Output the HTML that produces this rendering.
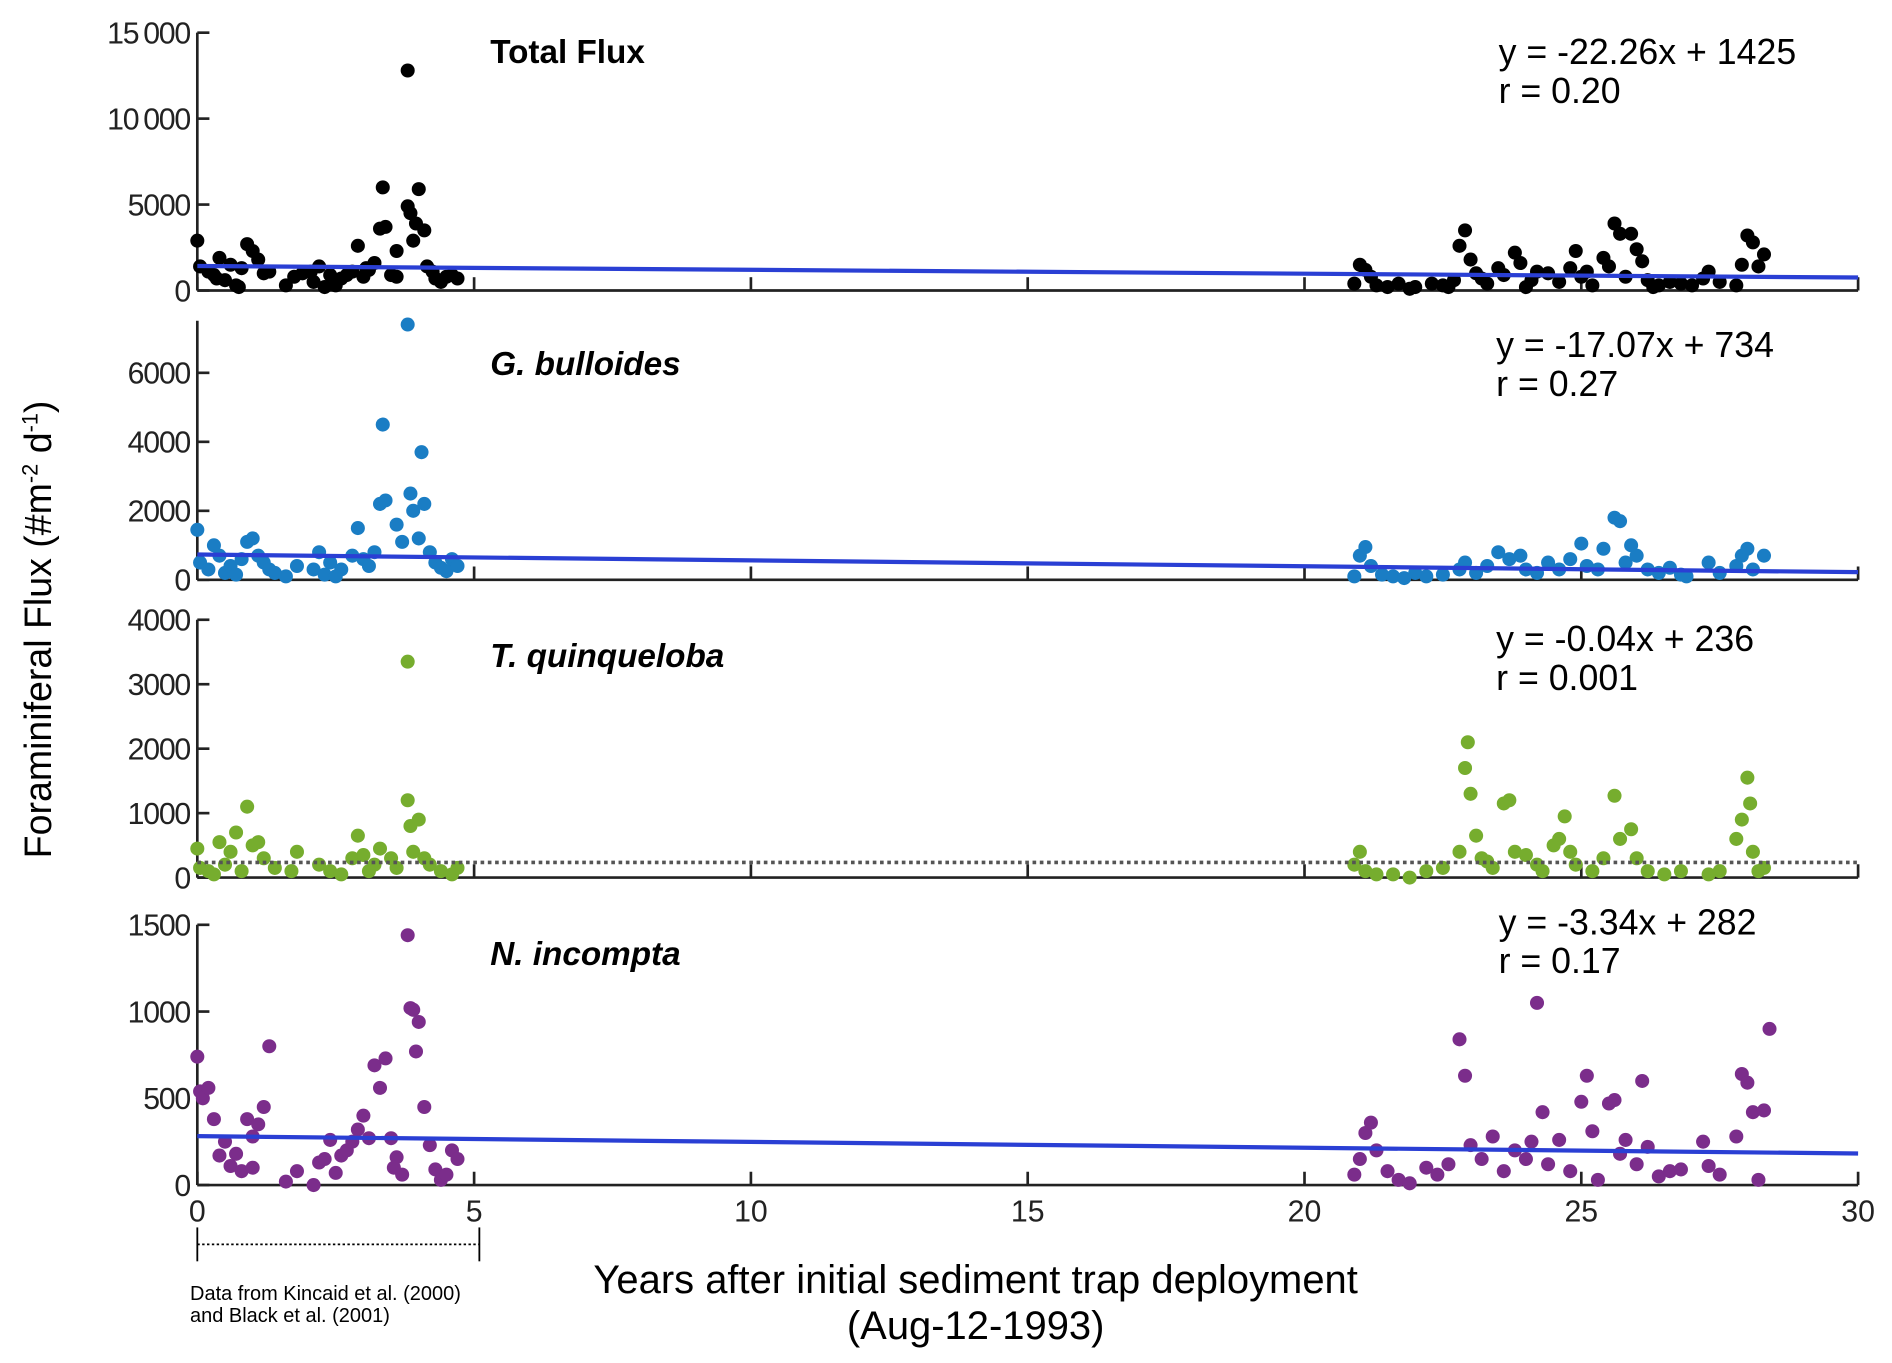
<!DOCTYPE html>
<html><head><meta charset="utf-8"><style>
html,body{margin:0;padding:0;background:#fff;}
svg{display:block;font-family:"Liberation Sans",Arial,sans-serif;}
</style></head><body>
<svg id="chart" width="1892" height="1363" viewBox="0 0 1563 1126" xmlns="http://www.w3.org/2000/svg">
<g id="root"></g>
</svg>
<script>
const xTicks=[0,5,10,15,20,25,30];
const panelNames=["Total Flux","G. bulloides","T. quinqueloba","N. incompta"];
const panelColors=["#000000","#1a7dc4","#76ad2e","#7b2d8b"];
const panelYTicks=[[0,5000,10000,15000],[0,2000,4000,6000],[0,1000,2000,3000,4000],[0,500,1000,1500]];
const panelYTickLabels=[["0","5000","10\u2009000","15\u2009000"],["0","2000","4000","6000"],["0","1000","2000","3000","4000"],["0","500","1000","1500"]];
const slopes=[-22.26,-17.07,-0.04,-3.34];
const intercepts=[1425,734,236,282];
const eqTexts=[["y = -22.26x + 1425","r = 0.20"],["y = -17.07x + 734","r = 0.27"],["y = -0.04x + 236","r = 0.001"],["y = -3.34x + 282","r = 0.17"]];
const totalFlux=[[0,2900],[0.05,1400],[0.2,1100],[0.3,900],[0.4,1900],[0.5,600],[0.6,1500],[0.7,300],[0.8,1300],[0.9,2700],[1.0,2300],[1.1,1800],[1.2,1000],[1.3,1100],[0.35,700],[0.75,200],[1.6,300],[1.75,800],[2.1,500],[2.2,1400],[2.3,200],[2.4,900],[2.5,300],[2.6,700],[2.7,900],[2.9,2600],[3.0,800],[3.1,1200],[3.2,1600],[3.3,3600],[3.35,6000],[3.4,3700],[3.5,900],[3.6,800],[3.6,2300],[3.8,12800],[3.8,4900],[3.85,4500],[3.9,2900],[3.95,3900],[4.0,5900],[4.1,3500],[4.15,1400],[4.25,1100],[4.3,700],[4.4,500],[4.5,800],[4.6,900],[4.7,700],[1.9,1000],[2.05,1100],[2.8,1100],[3.05,1300],
[20.9,400],[21.0,1500],[21.1,1200],[21.2,800],[21.3,300],[21.5,200],[21.7,400],[21.9,100],[22.0,200],[22.3,400],[22.5,300],[22.7,600],[22.8,2600],[22.9,3500],[23.0,1800],[23.1,1000],[23.2,700],[23.3,400],[23.5,1300],[23.6,900],[23.8,2200],[23.9,1600],[24.1,600],[24.2,1100],[24.4,1000],[24.6,500],[24.8,1300],[24.9,2300],[25.0,800],[25.1,1100],[25.2,300],[25.4,1900],[25.5,1400],[25.6,3900],[25.7,3300],[25.8,800],[25.9,3300],[26.0,2400],[26.1,1700],[26.2,600],[26.4,300],[26.6,500],[26.8,400],[27.2,700],[27.3,1100],[27.5,500],[27.8,300],[27.9,1500],[28.0,3200],[28.1,2800],[28.2,1400],[28.3,2100],[26.3,200],[27.0,300],[22.6,200],[24.0,200]];
const gBulloides=[[0,1450],[0.05,500],[0.2,300],[0.3,1000],[0.4,700],[0.5,200],[0.6,400],[0.7,150],[0.8,600],[0.9,1100],[1.0,1200],[1.1,700],[1.2,500],[1.3,300],[1.6,100],[1.8,400],[2.1,300],[2.2,800],[2.3,150],[2.4,500],[2.6,300],[2.8,700],[2.9,1500],[3.0,600],[3.2,800],[3.3,2200],[3.35,4500],[3.4,2300],[3.6,1600],[3.7,1100],[3.8,7400],[3.85,2500],[3.9,2000],[4.0,1200],[4.05,3700],[4.1,2200],[4.2,800],[4.3,500],[4.4,350],[4.5,250],[4.6,600],[4.7,400],[1.4,200],[2.5,100],[3.1,400],
[20.9,100],[21.0,700],[21.1,950],[21.2,400],[21.4,150],[21.6,100],[21.8,50],[22.2,100],[22.5,150],[22.8,300],[22.9,500],[23.1,200],[23.3,400],[23.5,800],[23.7,600],[23.9,700],[24.0,300],[24.2,200],[24.4,500],[24.6,300],[24.8,600],[25.0,1050],[25.1,400],[25.3,300],[25.4,900],[25.6,1800],[25.7,1700],[25.8,500],[25.9,1000],[26.0,700],[26.2,300],[26.4,200],[26.6,350],[26.8,150],[27.3,500],[27.5,200],[27.8,400],[27.9,700],[28.0,900],[28.1,300],[28.3,700],[26.9,100],[22.0,200]];
const tQuinqueloba=[[0,450],[0.05,150],[0.2,100],[0.4,550],[0.5,200],[0.6,400],[0.7,700],[0.8,100],[0.9,1100],[1.0,500],[1.1,550],[1.2,300],[1.4,150],[1.7,100],[1.8,400],[2.2,200],[2.4,100],[2.6,50],[2.8,300],[2.9,650],[3.0,350],[3.2,200],[3.3,450],[3.5,300],[3.6,150],[3.8,3350],[3.8,1200],[3.85,800],[3.9,400],[4.0,900],[4.1,300],[4.2,200],[4.4,100],[4.6,50],[4.7,150],[3.1,100],[0.3,50],
[20.9,200],[21.0,400],[21.1,100],[21.3,50],[21.6,50],[21.9,0],[22.2,100],[22.5,150],[22.8,400],[22.9,1700],[22.95,2100],[23.0,1300],[23.1,650],[23.2,300],[23.4,150],[23.6,1150],[23.7,1200],[23.8,400],[24.0,350],[24.2,200],[24.5,500],[24.6,600],[24.7,950],[24.8,400],[24.9,200],[25.2,100],[25.4,300],[25.6,1270],[25.7,600],[25.9,750],[26.0,300],[26.2,100],[26.5,50],[26.8,100],[27.3,50],[27.5,100],[27.8,600],[27.9,900],[28.0,1550],[28.05,1150],[28.1,400],[28.2,100],[28.3,150],[24.3,100],[23.3,250]];
const nIncompta=[[0,740],[0.05,540],[0.1,500],[0.2,560],[0.3,380],[0.4,170],[0.5,250],[0.6,110],[0.7,180],[0.8,80],[0.9,380],[1.0,280],[1.1,350],[1.2,450],[1.3,800],[1.0,100],[1.6,20],[1.8,80],[2.1,0],[2.2,130],[2.3,150],[2.4,260],[2.5,70],[2.6,170],[2.7,200],[2.8,250],[2.9,320],[3.0,400],[3.1,270],[3.2,690],[3.3,560],[3.4,730],[3.5,270],[3.6,160],[3.7,60],[3.8,1440],[3.85,1020],[3.9,1010],[3.95,770],[4.0,940],[4.1,450],[4.2,230],[4.3,90],[4.4,30],[4.5,60],[4.6,200],[4.7,150],[3.55,100],
[20.9,60],[21.0,150],[21.1,300],[21.2,360],[21.3,200],[21.5,80],[21.7,30],[21.9,10],[22.2,100],[22.4,60],[22.6,120],[22.8,840],[22.9,630],[23.0,230],[23.2,150],[23.4,280],[23.6,80],[23.8,200],[24.0,150],[24.1,250],[24.2,1050],[24.3,420],[24.4,120],[24.6,260],[24.8,80],[25.0,480],[25.1,630],[25.2,310],[25.3,30],[25.5,470],[25.6,490],[25.7,180],[25.8,260],[26.0,120],[26.1,600],[26.2,220],[26.4,50],[26.6,80],[26.8,90],[27.2,250],[27.3,110],[27.5,60],[27.8,280],[27.9,640],[28.0,590],[28.1,420],[28.3,430],[28.4,900],[28.2,30]];
const panelData=[totalFlux,gBulloides,tQuinqueloba,nIncompta];

const NS="http://www.w3.org/2000/svg";
const root=document.getElementById('root');
const X0=163,X1=1535;
const xs=v=>X0+(v-0)/30*(X1-X0);
const layout=[[240,27,15000,27],[479,308,6000,265],[725,512,4000,512],[979,764,1500,764]];
function el(tag,attrs,parent){const e=document.createElementNS(NS,tag);for(const k in attrs)e.setAttribute(k,attrs[k]);(parent||root).appendChild(e);return e;}

layout.forEach((L,p)=>{
  const ys=v=>L[0]-v/L[2]*(L[0]-L[1]);
  const g=el('g',{});
  
  
  const ya=el('line',{x1:X0,x2:X0,y1:L[3],y2:L[0],stroke:'#222','stroke-width':2.2},g);
  
  
  panelYTicks[p].forEach((t,i)=>{
    el('line',{x1:X0,x2:X0+10,y1:ys(t),y2:ys(t),stroke:'#222','stroke-width':2.2},g);
    const tx=el('text',{x:X0-6,y:ys(t)+9,'text-anchor':'end','font-size':25,fill:'#222','letter-spacing':'-1'},g);
    tx.textContent=panelYTickLabels[p][i];
    
    
  });
  const xa=el('line',{x1:X0,x2:X1,y1:L[0],y2:L[0],stroke:'#222','stroke-width':2.2},g);
  
  
  xTicks.forEach(t=>{
    el('line',{x1:xs(t),x2:xs(t),y1:L[0],y2:L[0]-11,stroke:'#222','stroke-width':2.2},g);
    if(p===3){
      const tx=el('text',{x:xs(t),y:L[0]+30,'text-anchor':'middle','font-size':25,fill:'#222'},g);
      tx.textContent=t;
      
      
    }
  });
  panelData[p].forEach(d=>{
    const c=el('circle',{cx:xs(d[0]),cy:ys(d[1]),r:5.8,fill:panelColors[p]},g);
    
    
  });
  if(p===2){
    const m=el('line',{x1:X0,x2:X1,y1:ys(intercepts[p]),y2:ys(intercepts[p]),stroke:'#555','stroke-width':3,'stroke-dasharray':'3 3'},g);
    
    
  } else {
    const r=el('line',{x1:xs(0),x2:xs(30),y1:ys(intercepts[p]),y2:ys(intercepts[p]+slopes[p]*30),stroke:'#2a3fd4','stroke-width':3.5},g);
    
    
  }
  const tt=el('text',{x:405,y:[52,310,551,797][p],'font-size':27.5,'font-weight':'bold','font-style':p===0?'normal':'italic',fill:'#000'},g);
  tt.textContent=panelNames[p];
  
  
  const ey=[53,295,538,772][p];
  const ex=[1238,1236,1236,1238][p];
  eqTexts[p].forEach((s,i)=>{
    const t=el('text',{x:ex,y:ey+i*32,'font-size':29.5,fill:'#000'},g);
    t.textContent=s;
    
    
  });
});
</script>
<svg style="position:absolute;left:0;top:0" width="1892" height="1363" viewBox="0 0 1563 1126" xmlns="http://www.w3.org/2000/svg" font-family="Liberation Sans, Arial, sans-serif">
<text transform="translate(42,520) rotate(-90)" text-anchor="middle" font-size="31" fill="#000">Foraminiferal Flux (#m<tspan font-size="18" dy="-11">-2</tspan><tspan dy="11"> d</tspan><tspan font-size="18" dy="-11">-1</tspan><tspan dy="11">)</tspan></text>
<text x="806" y="1068" text-anchor="middle" font-size="33" fill="#000">Years after initial sediment trap deployment</text>
<text x="806" y="1106" text-anchor="middle" font-size="33" fill="#000">(Aug-12-1993)</text>
<g stroke="#000" stroke-width="1.5">
<line x1="163" x2="163" y1="1014" y2="1042"/><line x1="396" x2="396" y1="1014" y2="1042"/>
<line x1="163" x2="396" y1="1028" y2="1028" stroke-dasharray="2 2"/>
</g>
<text x="157" y="1074" font-size="16.5" fill="#000">Data from Kincaid et al. (2000)</text>
<text x="157" y="1092" font-size="16.5" fill="#000">and Black et al. (2001)</text>
</svg>
</body></html>
